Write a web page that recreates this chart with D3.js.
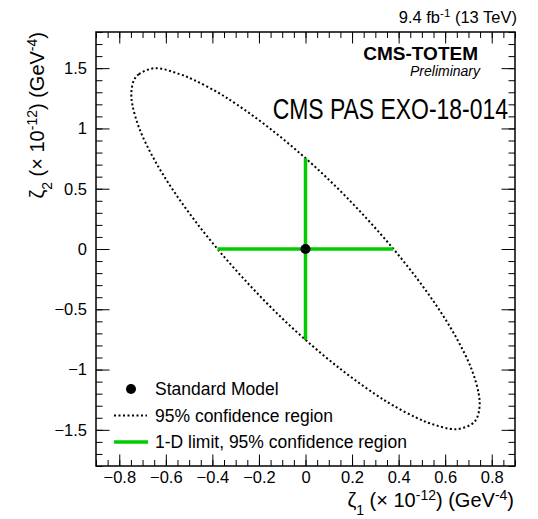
<!DOCTYPE html>
<html lang="en">
<head>
<meta charset="UTF-8">
<title>zeta1 vs zeta2</title>
<style>
    body { margin: 0; background: #fff; }
    svg text { font-family: "Liberation Sans", Arial, Helvetica, sans-serif; fill: #000; }
</style>
</head>
<body>
<div id="chart"></div>
<script src="https://cdn.jsdelivr.net/npm/d3@7/dist/d3.min.js"></script>
<script>
    // ---- data ----
    const xMajor = [-0.8, -0.6, -0.4, -0.2, 0, 0.2, 0.4, 0.6, 0.8];
    const yMajor = [-1.5, -1, -0.5, 0, 0.5, 1, 1.5];
    const smPoint = [0, 0];
    const limitX = [-0.378, 0.377];   // 1-D limit on zeta1 (zeta2 = 0)
    const limitY = [-0.755, 0.752];   // 1-D limit on zeta2 (zeta1 = 0)
    // 95% CL contour, read point by point
    const contour = [
        [-0.646, 1.500], [-0.716, 1.45], [-0.737, 1.40], [-0.748, 1.30], [-0.744, 1.20],
        [-0.714, 1.00], [-0.652, 0.75], [-0.573, 0.50], [-0.481, 0.25], [-0.378, 0.00],
        [-0.264, -0.25], [-0.140, -0.50], [-0.002, -0.75], [0.153, -1.00], [0.296, -1.20],
        [0.378, -1.30], [0.477, -1.40], [0.540, -1.45], [0.646, -1.495], [0.716, -1.45],
        [0.737, -1.40], [0.748, -1.30], [0.744, -1.20], [0.714, -1.00], [0.652, -0.75],
        [0.573, -0.50], [0.481, -0.25], [0.378, 0.00], [0.264, 0.25], [0.140, 0.50],
        [0.002, 0.75], [-0.153, 1.00], [-0.296, 1.20], [-0.378, 1.30], [-0.477, 1.40],
        [-0.540, 1.45]
    ];
    const legendLabels = ["Standard Model", "95% confidence region", "1-D limit, 95% confidence region"];

    const width = 538, height = 519;
    const mLeft = 96, mRight = 515, mTop = 32, mBottom = 466;
    const green = "#00cc00";

    let svg = d3.select("#chart")
        .append("svg")
        .attr("width", width)
        .attr("height", height);

    var x = d3.scaleLinear().domain([-0.9, 0.9]).range([mLeft, mRight]);
    var y = d3.scaleLinear().domain([-1.8, 1.8]).range([mBottom, mTop]);
    var fmt = d3.format("~g");

    // axis helper: ticks point inward, no domain path
    function axis(fn, scale, values, size, pad, f, tr) {
        let g = svg.append("g")
            .attr("transform", tr)
            .call(fn(scale).tickValues(values).tickSizeInner(-size).tickSizeOuter(0)
                .tickPadding(pad).tickFormat(f));
        g.select(".domain").remove();
        g.selectAll("line").attr("stroke", "#000").attr("stroke-width", 1);
        g.attr("font-family", null).attr("font-size", null);
        return g;
    }

    // minor ticks
    axis(d3.axisBottom, x, x.ticks(36), 6, 0, "", `translate(0,${mBottom})`);
    axis(d3.axisTop, x, x.ticks(36), 6, 0, "", `translate(0,${mTop})`);
    axis(d3.axisLeft, y, y.ticks(36), 6.5, 0, "", `translate(${mLeft},0)`);
    axis(d3.axisRight, y, y.ticks(36), 6.5, 0, "", `translate(${mRight},0)`);

    // major ticks + labels
    let xa = axis(d3.axisBottom, x, xMajor, 11.5, 5.3, fmt, `translate(0,${mBottom})`);
    xa.selectAll("text").style("font-size", "16.5px");
    axis(d3.axisTop, x, xMajor, 11.5, 0, "", `translate(0,${mTop})`);
    let ya = axis(d3.axisLeft, y, yMajor, 13.5, 9, fmt, `translate(${mLeft},0)`);
    ya.selectAll("text").style("font-size", "16.5px");
    axis(d3.axisRight, y, yMajor, 13.5, 0, "", `translate(${mRight},0)`);

    // frame
    svg.append("rect")
        .attr("x", mLeft).attr("y", mTop)
        .attr("width", mRight - mLeft).attr("height", mBottom - mTop)
        .attr("fill", "none").attr("stroke", "#000").attr("stroke-width", 1.5);

    // contour
    let line = d3.line()
        .x(d => x(d[0]))
        .y(d => y(d[1]))
        .curve(d3.curveCatmullRomClosed);

    svg.append("path")
        .datum(contour)
        .attr("d", line)
        .attr("fill", "none")
        .attr("stroke", "#000")
        .attr("stroke-width", 2)
        .attr("stroke-dasharray", "2,2.5");

    // 1-D limits
    svg.append("line")
        .attr("x1", x(limitX[0])).attr("x2", x(limitX[1]))
        .attr("y1", y(0)).attr("y2", y(0))
        .attr("stroke", green).attr("stroke-width", 3.5);
    svg.append("line")
        .attr("x1", x(0)).attr("x2", x(0))
        .attr("y1", y(limitY[0])).attr("y2", y(limitY[1]))
        .attr("stroke", green).attr("stroke-width", 3.5);

    // SM point
    svg.append("circle")
        .attr("cx", x(smPoint[0])).attr("cy", y(smPoint[1]))
        .attr("r", 5).attr("fill", "#000");

    // legend
    let leg = svg.append("g").classed("legend", true);
    let rows = [389, 415.5, 442];
    leg.append("circle").attr("cx", 131).attr("cy", rows[0]).attr("r", 5).attr("fill", "#000");
    leg.append("line").attr("x1", 114).attr("x2", 147).attr("y1", rows[1]).attr("y2", rows[1])
        .attr("stroke", "#000").attr("stroke-width", 2).attr("stroke-dasharray", "2,2.5");
    leg.append("line").attr("x1", 114).attr("x2", 148).attr("y1", rows[2]).attr("y2", rows[2])
        .attr("stroke", green).attr("stroke-width", 3.5);
    leg.selectAll("text.lab")
        .data(legendLabels)
        .join("text")
        .attr("class", "lab")
        .attr("x", 155)
        .attr("y", (d, i) => rows[i] + 6.3)
        .style("font-size", "17.5px")
        .text(d => d);

    // titles with sub/superscripts
    function richText(g, parts, size) {
        let t = g.append("text").attr("text-anchor", "end").style("font-size", size + "px");
        let shift = 0;
        parts.forEach(p => {
            let target = p.s === "sub" ? 0.42 * size : p.s === "sup" ? -0.37 * size : 0;
            t.append("tspan")
                .attr("dy", target - shift)
                .style("font-size", (p.s ? 0.7 * size : size) + "px")
                .text(p.t);
            shift = target;
        });
        return t;
    }
    const axisTitle = n => [
        {t: "\u03B6"}, {t: n, s: "sub"}, {t: " (\u00D7 10"}, {t: "-12", s: "sup"},
        {t: ") (GeV"}, {t: "-4", s: "sup"}, {t: ")"}
    ];

    richText(svg.append("g").attr("transform", "translate(514,507)"), axisTitle("1"), 20);
    richText(svg.append("g").attr("transform", "translate(44,32) rotate(-90)"), axisTitle("2"), 20);

    // top label
    richText(svg.append("g").attr("transform", "translate(517,23)"),
        [{t: "9.4 fb"}, {t: "-1", s: "sup"}, {t: " (13 TeV)"}], 16.5);

    svg.append("text").attr("x", 478).attr("y", 60).attr("text-anchor", "end")
        .style("font-size", "19px").style("font-weight", "bold").text("CMS-TOTEM");
    svg.append("text").attr("x", 480).attr("y", 75.5).attr("text-anchor", "end")
        .style("font-size", "14px").style("font-style", "italic").text("Preliminary");
    // narrow lettering: squeeze horizontally
    svg.append("g").attr("transform", "translate(508,118.5) scale(0.765,1)")
        .append("text").attr("text-anchor", "end")
        .style("font-size", "30px").text("CMS PAS EXO-18-014");
</script>
</body>
</html>
